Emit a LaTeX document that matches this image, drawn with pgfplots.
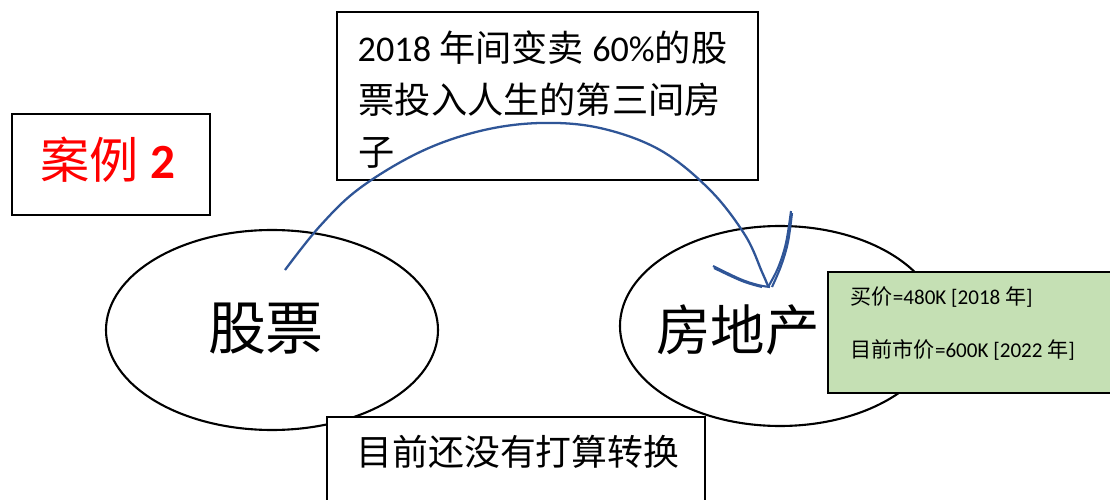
\documentclass[border=0pt]{standalone}
\usepackage{fontspec}
\usepackage{pgfplots}
\pgfplotsset{compat=1.18}
\setmainfont{Carlito}
\newfontfamily\cjk{Noto Sans CJK SC}
\definecolor{curveblue}{RGB}{47,85,151}
\definecolor{boxgreen}{RGB}{197,224,180}
\begin{document}
\begin{tikzpicture}
\begin{axis}[scale only axis, width=11.1cm, height=5cm,
  xmin=0, xmax=1110, ymin=0, ymax=500, y dir=reverse,
  hide axis, clip=false, at={(0,0)}, anchor=south west]
% ellipses
\draw[black, line width=0.6pt] (axis cs:272,330) ellipse [x radius=166, y radius=100];
\draw[black, line width=0.6pt] (axis cs:780,326) ellipse [x radius=160, y radius=100];
% ellipse texts
\node[font=\cjk\fontsize{16.5}{18}\selectfont] at (axis cs:266,329) {股票};
\node[font=\cjk\fontsize{15.5}{18}\selectfont] at (axis cs:738,330) {房地产};
% case box
\draw[black, line width=0.6pt, fill=white] (axis cs:12,114) rectangle (axis cs:210,215);
\node[text=red, font=\fontsize{14}{16}\selectfont] at (axis cs:108,160) {{\cjk 案例} \textbf{2}};
% top box
\draw[black, line width=0.5pt, fill=white] (axis cs:337,12) rectangle (axis cs:758,180);
\node[anchor=west, inner sep=0pt, font=\fontsize{10.3}{12}\selectfont] at (axis cs:357,48) {2018 {\cjk 年间变卖} 60\%{\cjk 的股}};
\node[anchor=west, inner sep=0pt, font=\cjk\fontsize{10.3}{12}\selectfont] at (axis cs:358,100) {票投入人生的第三间房};
\node[anchor=west, inner sep=0pt, font=\cjk\fontsize{10.3}{12}\selectfont] at (axis cs:358,153) {子};
% bottom box
\draw[black, line width=0.5pt, fill=white] (axis cs:327,417) rectangle (axis cs:705,520);
\node[font=\cjk\fontsize{10.2}{12}\selectfont] at (axis cs:518,452) {目前还没有打算转换};
% green box
\draw[black, line width=0.6pt, fill=boxgreen] (axis cs:828,272) rectangle (axis cs:1120,393);
\node[anchor=west, inner sep=0pt, font=\fontsize{6}{7}\selectfont] at (axis cs:850,297) {{\cjk 买价}=480K [2018 {\cjk 年}]};
\node[anchor=west, inner sep=0pt, font=\fontsize{6}{7}\selectfont] at (axis cs:850,350) {{\cjk 目前市价}=600K [2022 {\cjk 年}]};
% curve
\addplot[curveblue, line width=0.65pt, smooth, tension=0.6] coordinates {
(285,270) (320,226) (360,188) (420,152) (480,131) (540,123) (600,128) (660,150) (710,190) (745,235) (762,272) (768,286)};
\addplot[curveblue, line width=0.6pt, smooth, tension=0.6] coordinates {
(713,266) (740,279) (758,285) (770,287)};
\addplot[curveblue, line width=0.6pt, smooth, tension=0.6] coordinates {
(714,268) (742,281) (762,287)};
\addplot[curveblue, line width=0.6pt, smooth, tension=0.6] coordinates {
(768,287) (778,268) (786,243) (791,211)};
\addplot[curveblue, line width=0.6pt, smooth, tension=0.6] coordinates {
(772,287) (781,266) (788,242) (792,213)};
\end{axis}
\pgfresetboundingbox
\path (0,0) rectangle (11.1cm,5cm);
\end{tikzpicture}
\end{document}
